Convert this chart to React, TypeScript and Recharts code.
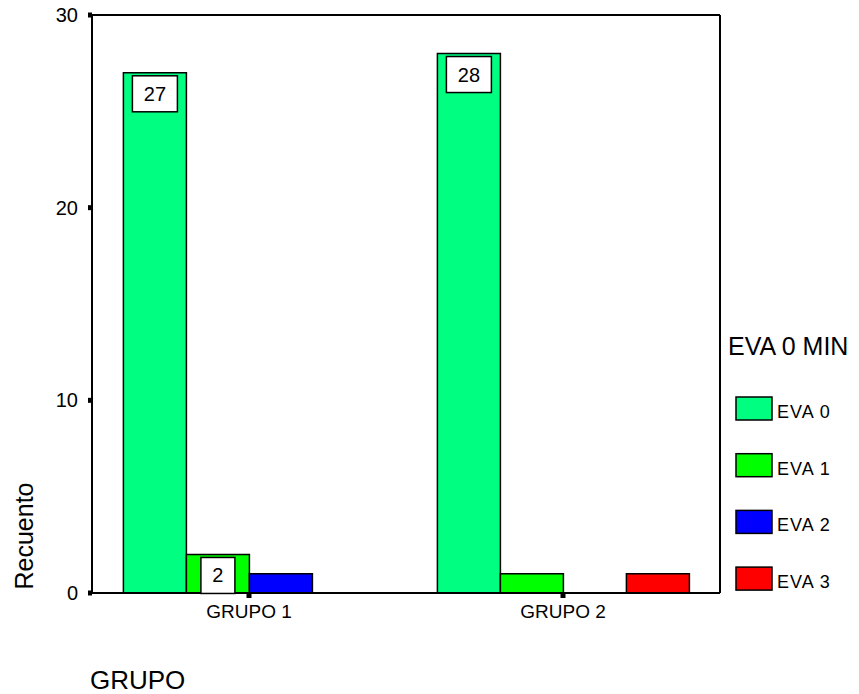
import React from "react"
import { BarChart, Bar, XAxis, YAxis, LabelList } from "recharts"

const categories = ["GRUPO 1", "GRUPO 2"]
const eva0 = [27, 28]
const eva1 = [2, 1]
const eva2 = [1, 0]
const eva3 = [0, 1]
const yTicks = [0, 10, 20, 30]

const seriesNames = ["EVA 0", "EVA 1", "EVA 2", "EVA 3"]
const seriesKeys = ["eva0", "eva1", "eva2", "eva3"]
const seriesColors = ["#00ff80", "#00ff00", "#0000ff", "#ff0000"]

const data = categories.map((name, i) => ({
  name,
  eva0: eva0[i],
  eva1: eva1[i],
  eva2: eva2[i],
  eva3: eva3[i],
}))

const font = "'Liberation Sans', Arial, sans-serif"

const BoxLabel = (props: any) => {
  const { x, y, width, height, value } = props
  const boxH = 36
  if (!value || height < boxH) return null
  const txt = String(value)
  const boxW = txt.length * 11 + 23
  const cx = x + width / 2
  const top = y + 3
  return (
    <g>
      <rect
        x={cx - boxW / 2}
        y={top}
        width={boxW}
        height={boxH}
        fill="#fff"
        stroke="#000"
        strokeWidth={1.5}
      />
      <text
        x={cx}
        y={top + 25}
        textAnchor="middle"
        fontSize={20}
        fontFamily={font}
        fill="#000"
      >
        {txt}
      </text>
    </g>
  )
}

export default function App() {
  const margin = { top: 14, right: 138, bottom: 0, left: 0 }
  return (
    <div style={{ position: "absolute", left: 0, top: 0, width: 859, height: 694 }}>
      <BarChart
        width={859}
        height={694}
        data={data}
        margin={margin}
        barCategoryGap="10%"
        barGap={0}
      >
        <XAxis
          dataKey="name"
          height={101}
          axisLine={{ stroke: "#000", strokeWidth: 2 }}
          tickLine={{ stroke: "#000", strokeWidth: 5 }}
          tickSize={5}
          tickMargin={7}
          tick={{ fill: "#000", fontSize: 19, fontFamily: font }}
        />
        <XAxis
          xAxisId="top"
          dataKey="name"
          orientation="top"
          height={1}
          axisLine={{ stroke: "#000", strokeWidth: 2 }}
          tickLine={false}
          tick={false}
        />
        <YAxis
          width={92}
          domain={[0, 30]}
          ticks={yTicks}
          axisLine={{ stroke: "#000", strokeWidth: 2 }}
          tickLine={{ stroke: "#000", strokeWidth: 5 }}
          tickSize={4}
          tickMargin={10}
          tick={{ fill: "#000", fontSize: 20, fontFamily: font }}
        />
        <YAxis
          yAxisId="right"
          orientation="right"
          width={1}
          domain={[0, 30]}
          axisLine={{ stroke: "#000", strokeWidth: 2 }}
          tickLine={false}
          tick={false}
        />
        {seriesKeys.map((k, i) => (
          <Bar
            key={k}
            dataKey={k}
            name={seriesNames[i]}
            fill={seriesColors[i]}
            stroke="#000"
            strokeWidth={1.5}
            isAnimationActive={false}
          >
            <LabelList dataKey={k} content={BoxLabel} />
          </Bar>
        ))}
      </BarChart>
      <svg
        width={859}
        height={694}
        style={{ position: "absolute", left: 0, top: 0, pointerEvents: "none" }}
      >
        <text
          transform="translate(33,536) rotate(-90)"
          textAnchor="middle"
          fontSize={25}
          fontFamily={font}
          fill="#000"
        >
          Recuento
        </text>
        <text x={90} y={689} fontSize={26} fontFamily={font} fill="#000">
          GRUPO
        </text>
        <text x={728} y={355} fontSize={25} fontFamily={font} fill="#000">
          EVA 0 MIN
        </text>
        {seriesNames.map((n, i) => (
          <g key={n}>
            <rect
              x={736}
              y={397 + i * 56.7}
              width={36}
              height={23}
              fill={seriesColors[i]}
              stroke="#000"
              strokeWidth={1.5}
            />
            <text
              x={777}
              y={418 + i * 56.7}
              fontSize={18}
              letterSpacing={1}
              fontFamily={font}
              fill="#000"
            >
              {n}
            </text>
          </g>
        ))}
      </svg>
    </div>
  )
}
